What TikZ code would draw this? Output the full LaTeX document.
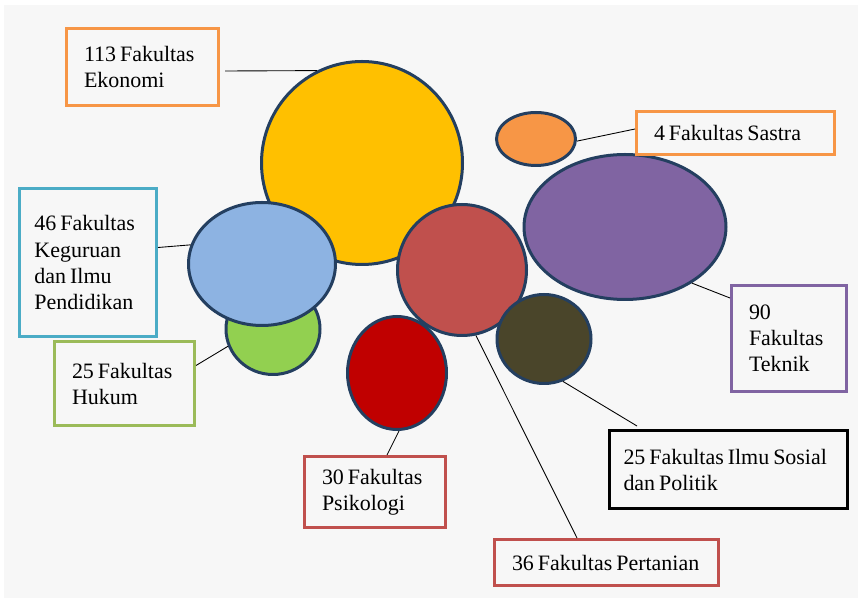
\documentclass[tikz,border=0pt]{standalone}
\usepackage{fontspec}
\setmainfont{Liberation Serif}[WordSpace=0.7]
\usetikzlibrary{shapes.geometric}
\definecolor{pageBg}{HTML}{F7F7F7}
\definecolor{rimDraw}{HTML}{243F60}
\definecolor{ekoFill}{HTML}{FFC000}
\definecolor{kipFill}{HTML}{8DB3E2}
\definecolor{hukFill}{HTML}{92D050}
\definecolor{psiFill}{HTML}{C00000}
\definecolor{perFill}{HTML}{C0504D}
\definecolor{sosFill}{HTML}{4A452A}
\definecolor{sasFill}{HTML}{F79646}
\definecolor{tekFill}{HTML}{8064A2}
\definecolor{orangeDraw}{HTML}{F79646}
\definecolor{blueDraw}{HTML}{4BACC6}
\definecolor{greenDraw}{HTML}{9BBB59}
\definecolor{redDraw}{HTML}{C0504D}
\definecolor{purpleDraw}{HTML}{8064A2}
\tikzset{
  bubble/.style ={ellipse, draw=rimDraw, line width=0.06cm, inner sep=0pt},
  tag/.style    ={draw, line width=0.06cm, align=left, inner xsep=0.35cm, inner ysep=0pt,
                  font=\fontsize{12.5}{14.8}\selectfont,
                  execute at begin node={\spaceskip=0.18em\relax}},
  link/.style   ={draw=black, line width=0.5pt},
}
\begin{document}
\begin{tikzpicture}
  \useasboundingbox (0,0) rectangle (17.2,-12.02);
  \fill[pageBg] (0.08,-0.1) rectangle (17.16,-11.96);

  % bubbles
  \node[bubble, fill=ekoFill, minimum width=4.02cm, minimum height=4.06cm] (eko) at (7.24,-3.26) {};
  \node[bubble, fill=hukFill, minimum width=1.88cm, minimum height=1.82cm] (huk) at (5.46,-6.58) {};
  \node[bubble, fill=kipFill, minimum width=2.94cm, minimum height=2.46cm] (kip) at (5.24,-5.28) {};
  \node[bubble, fill=tekFill, minimum width=4.04cm, minimum height=2.90cm] (tek) at (12.50,-4.54) {};
  \node[bubble, fill=sasFill, minimum width=1.58cm, minimum height=1.06cm] (sas) at (10.72,-2.78) {};
  \node[bubble, fill=psiFill, minimum width=1.98cm, minimum height=2.26cm] (psi) at (7.94,-7.46) {};
  \node[bubble, fill=perFill, minimum width=2.58cm, minimum height=2.62cm] (per) at (9.24,-5.40) {};
  \node[bubble, fill=sosFill, minimum width=1.88cm, minimum height=1.78cm] (sos) at (10.88,-6.78) {};

  % labels
  \node[tag, draw=orangeDraw, text width=2.34cm, minimum height=1.54cm] (ekoBox) at (2.85,-1.34)  {113 Fakultas\\Ekonomi};
  \node[tag, draw=blueDraw,   text width=2.14cm, minimum height=2.96cm, inner xsep=0.30cm] (kipBox) at (1.76,-5.25)  {46 Fakultas\\Keguruan\\dan Ilmu\\Pendidikan};
  \node[tag, draw=greenDraw,  text width=2.10cm, minimum height=1.68cm] (hukBox) at (2.49,-7.67)  {25 Fakultas\\Hukum};
  \node[tag, draw=redDraw,    text width=2.12cm, minimum height=1.42cm] (psiBox) at (7.50,-9.84)  {30 Fakultas\\Psikologi};
  \node[tag, draw=redDraw,    text width=3.78cm, minimum height=0.92cm] (perBox) at (12.13,-11.25) {36 Fakultas Pertanian};
  \node[tag, draw=black,      text width=4.20cm, minimum height=1.56cm, inner xsep=0.28cm] (sosBox) at (14.57,-9.39) {25 Fakultas Ilmu Sosial\\dan Politik};
  \node[tag, draw=purpleDraw, text width=1.60cm, minimum height=2.12cm] (tekBox) at (15.78,-6.77) {90\\Fakultas\\Teknik};
  \node[tag, draw=orangeDraw, text width=3.26cm, minimum height=0.86cm] (sasBox) at (14.71,-2.66) {4 Fakultas Sastra};

  % connectors
  \draw[link] ([xshift=0.1cm,yshift=-0.08cm]ekoBox.east) -- (eko.116);
  \draw[link] ([yshift=0.3cm]kipBox.east) -- (kip.165);
  \draw[link] ([yshift=0.36cm]hukBox.east) -- (huk.201);
  \draw[link] ([xshift=0.24cm]psiBox.north) -- (psi.272);
  \draw[link] ([xshift=-0.59cm]perBox.north) -- (per.282);
  \draw[link] ([xshift=-1.83cm,yshift=0.06cm]sosBox.north) -- (sos.294);
  \draw[link] ([yshift=-0.28cm]tekBox.north west) -- (tek.320);
  \draw[link] ([yshift=0.08cm]sasBox.west) -- (sas.357);
\end{tikzpicture}
\end{document}
